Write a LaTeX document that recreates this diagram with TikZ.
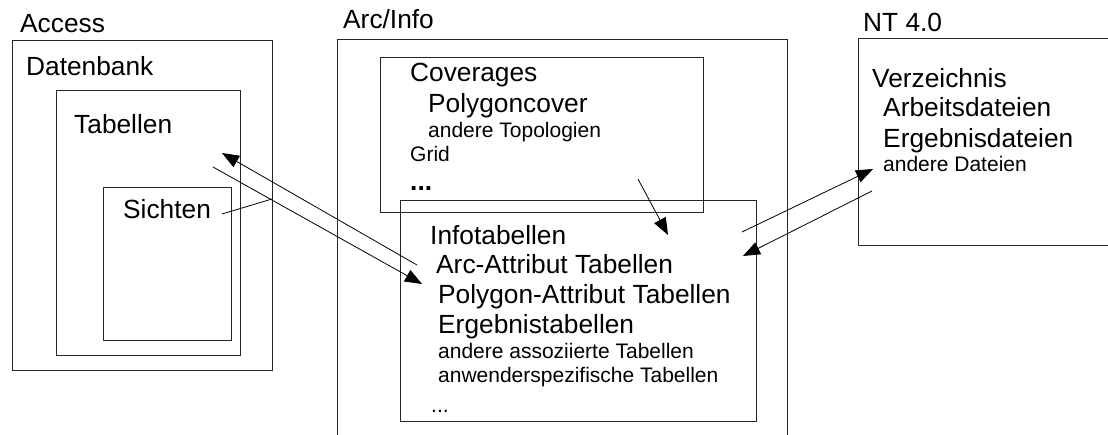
\documentclass[tikz,border=0pt]{standalone}
\usepackage{fontspec}
\setmainfont{Liberation Sans}
\usetikzlibrary{arrows.meta}
\tikzset{
  big/.style={anchor=base west, inner sep=0pt, font=\fontsize{26.3}{30}\selectfont},
  small/.style={anchor=base west, inner sep=0pt, font=\fontsize{21}{24}\selectfont},
  box/.style={draw=black!85, line width=0.9pt},
  arr/.style={-{Triangle[length=17pt,width=13pt]}, line width=0.8pt},
  ln/.style={line width=0.8pt}
}
\begin{document}
\begin{tikzpicture}[x=1pt,y=-1pt]
\useasboundingbox (0,0) rectangle (1108,434);
\clip (0,0) rectangle (1108,434);
\fill[white] (0,0) rectangle (1108,434);
% boxes
\draw[box] (12,40) rectangle (272,370);
\draw[box] (56,90) rectangle (240,355);
\draw[box] (103,187) rectangle (231,340);
\draw[box] (337,450) -- (337,39) -- (787,39) -- (787,450);
\draw[box] (380,57) rectangle (703,212);
\draw[box] (400,200) rectangle (756,421);
\draw[box] (1120,38) -- (858,38) -- (858,245) -- (1120,245);
% labels
\node[big] (access) at (20,32) {Access};
\node[big] (datenbank) at (26,75) {Datenbank};
\node[big] (tabellen) at (74,133) {Tabellen};
\node[big] (sichten) at (123,218) {Sichten};
\node[big] (arcinfo) at (343,28) {Arc/Info};
\node[big] (coverages) at (410,81) {Coverages};
\node[big] (polycover) at (428,112) {Polygoncover};
\node[small] (topo) at (428,137) {andere Topologien};
\node[small] (grid) at (410,161) {Grid};
\node[big, font=\fontsize{26.3}{30}\selectfont\bfseries] (covdots) at (410,190) {...};
\node[big] (infotab) at (430,244) {Infotabellen};
\node[big] (arcattr) at (436,273) {Arc-Attribut Tabellen};
\node[big] (polyattr) at (438,303) {Polygon-Attribut Tabellen};
\node[big] (ergtab) at (438,333) {Ergebnistabellen};
\node[small] (assoz) at (438,358) {andere assoziierte Tabellen};
\node[small] (anw) at (438,382) {anwenderspezifische Tabellen};
\node[small] (infodots) at (431,412) {...};
\node[big] (nt) at (863,31) {NT 4.0};
\node[big] (verz) at (872,87) {Verzeichnis};
\node[big] (arbeit) at (883,116) {Arbeitsdateien};
\node[big] (ergdat) at (883,147) {Ergebnisdateien};
\node[small] (anddat) at (883,171) {andere Dateien};
% connector end points
\coordinate (a1s) at (417,265);
\coordinate (a1e) at (222,153);
\coordinate (a2s) at (213,167);
\coordinate (a2e) at (422,284);
\coordinate (s1) at (222,214);
\coordinate (s2) at (272,199);
\coordinate (c1s) at (638,179);
\coordinate (c1e) at (668,235);
\coordinate (n1s) at (742,232);
\coordinate (n1e) at (873,169);
\coordinate (n2s) at (872,191);
\coordinate (n2e) at (743,256);
% connectors
\draw[arr] (a1s) -- (a1e);
\draw[arr] (a2s) -- (a2e);
\draw[ln] (s1) -- (s2);
\draw[arr] (c1s) -- (c1e);
\draw[arr] (n1s) -- (n1e);
\draw[arr] (n2s) -- (n2e);
\end{tikzpicture}
\end{document}
